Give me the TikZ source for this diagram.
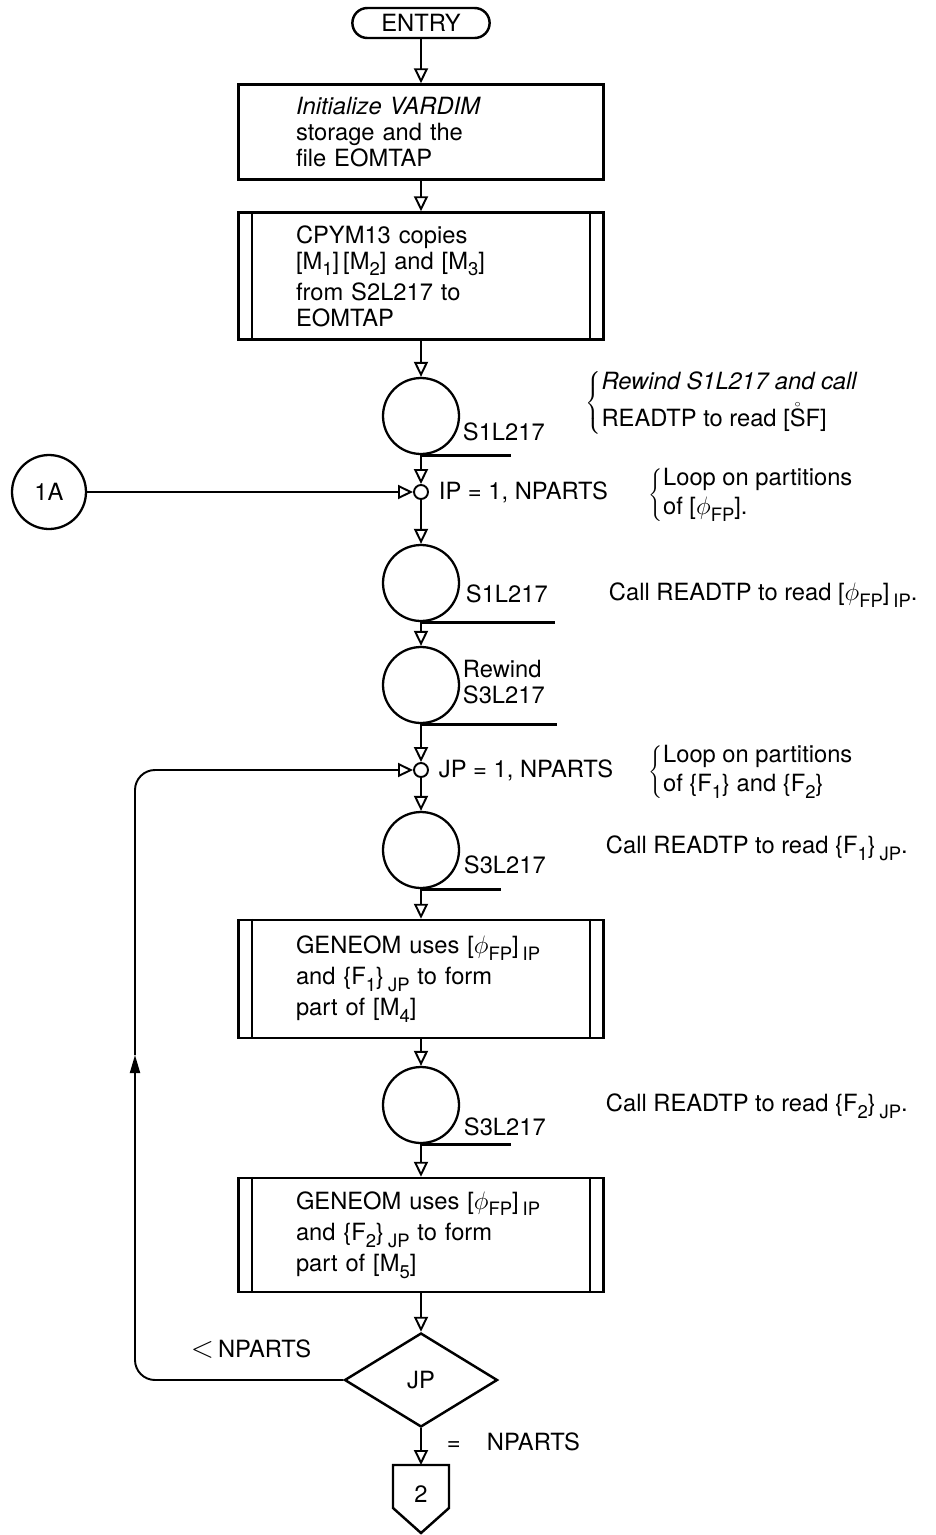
\documentclass[tikz,border=0pt]{standalone}
\usepackage{fontspec}
\setmainfont{TeX Gyre Heros}
\usetikzlibrary{arrows.meta,shapes.geometric,shapes.misc}
\newcommand{\lowsub}[1]{\raisebox{-0.55ex}{\fontsize{10.5}{12}\selectfont #1}}
\newcommand{\ringS}{$\mathring{\mbox{S}}$}

\begin{document}
\begin{tikzpicture}[x=0.02cm, y=-0.02cm, line width=1.1pt,
  font=\fontsize{13.5}{14.8}\selectfont,
  flow/.style={-{Triangle[open, length=0.3cm, width=0.28cm]}},
  box/.style={draw, line width=1.4pt, minimum width=7.3cm, text width=5cm, align=left},
  tape/.style={draw, circle, line width=1.3pt, minimum size=1.52cm, inner sep=0pt},
  tail/.style={line width=1.8pt},
  joint/.style={draw, circle, minimum size=0.28cm, inner sep=0pt},
  note/.style={anchor=west, inner sep=0pt}]
	\useasboundingbox (0, 0) rectangle (936, 1535);
	\node [draw, rounded rectangle, line width=1.4pt, minimum width=2.98cm, minimum height=0.6cm] (entry) at (421, 23) {ENTRY};
	\node [box, minimum height=1.9cm] (init) at (421, 132) {\itshape Initialize VARDIM\\\upshape storage and the\\file EOMTAP};
	\node [box, minimum height=2.54cm] (cpy) at (421, 276) {CPYM13 copies\\{}[M\lowsub{1}]\,[M\lowsub{2}] and [M\lowsub{3}]\\[3pt]from S2L217 to\\EOMTAP};
	\node [tape] (t1) at (421, 416) {};
	\node [joint] (jip) at (421, 492) {};
	\node [draw, circle, line width=1.3pt, minimum size=1.48cm, inner sep=0pt] (c1a) at (49, 492) {1A};
	\node [tape] (t2) at (421, 583) {};
	\node [tape] (t3) at (421, 685) {};
	\node [joint] (jjp) at (421, 770) {};
	\node [tape] (t4) at (421, 850) {};
	\node [box, minimum height=2.36cm] (gen1) at (421, 979) {GENEOM uses [$\phi$\lowsub{FP}]\,\lowsub{IP}\\[3pt]and \{F\lowsub{1}\}\,\lowsub{JP} to form\\[3pt]part of [M\lowsub{4}]};
	\node [tape] (t5) at (421, 1105) {};
	\node [box, minimum height=2.28cm] (gen2) at (421, 1235) {GENEOM uses [$\phi$\lowsub{FP}]\,\lowsub{IP}\\[3pt]and \{F\lowsub{2}\}\,\lowsub{JP} to form\\[3pt]part of [M\lowsub{5}]};
	\node [draw, diamond, line width=1.4pt, minimum width=3.06cm, minimum height=1.88cm, inner sep=0pt] (dec) at (421, 1380) {JP};
	\node (pg) at (421, 1494) {2};
	\coordinate (pgtop) at (421, 1465);
	\coordinate (up) at (135, 1055);

	\foreach \b in {cpy, gen1, gen2} {
		\draw ([xshift=0.3cm]\b.north west) -- ([xshift=0.3cm]\b.south west);
		\draw ([xshift=-0.3cm]\b.north east) -- ([xshift=-0.3cm]\b.south east);
	}
	\draw [line width=1.4pt] (pgtop) -- ++(28, 0) -- ++(0, 43) -- ++(-28, 25) -- ++(-28, -25) -- ++(0, -43) -- cycle;

	\draw [tail] (t1.south) -- ++(90, 0);
	\draw [tail] (t2.south) -- ++(134, 0);
	\draw [tail] (t3.south) -- ++(136, 0);
	\draw [tail] (t4.south) -- ++(80, 0);
	\draw [tail] (t5.south) -- ++(90, 0);

	\foreach \a/\b in {entry/init, init/cpy, cpy/t1, t1/jip, jip/t2, t2/t3, t3/jjp, jjp/t4, t4/gen1, gen1/t5, t5/gen2, gen2/dec, dec/pgtop}
		\draw [flow] (\a) -- (\b);
	\draw [flow] (c1a) -- (jip);
	\draw [-{Triangle[length=0.36cm, width=0.2cm]}, rounded corners=0.4cm] (dec.west) -| (up);
	\draw [flow, rounded corners=0.4cm] (up) |- (jjp.west);

	\node [note] at (462, 432) {S1L217};
	\node [note] at (465, 594) {S1L217};
	\node [note, align=left] at (462, 682) {Rewind\\S3L217};
	\node [note] at (463, 865) {S3L217};
	\node [note] at (463, 1127) {S3L217};
	\node [note] at (438, 492) {IP = 1, NPARTS};
	\node [note] at (438, 770) {JP = 1, NPARTS};
	\node [note] at (190, 1349) {{\fontsize{17}{17}\selectfont$<$}\,NPARTS};
	\node [note] at (446, 1442) {=\hspace{1.1em}NPARTS};

	\node [note] at (585, 403) {$\left\{\vcenter{\hbox{\begin{tabular}{@{}l@{}}\itshape Rewind S1L217 and call\\[3pt]READTP to read [\ringS F]\end{tabular}}}\right.$};
	\node [note] at (648, 495) {$\left\{\vcenter{\hbox{\begin{tabular}{@{}l@{}}Loop on partitions\\[2pt]of [$\phi$\lowsub{FP}].\end{tabular}}}\right.$};
	\node [note] at (608, 595) {Call READTP to read [$\phi$\lowsub{FP}]\,\lowsub{IP}.};
	\node [note] at (648, 772) {$\left\{\vcenter{\hbox{\begin{tabular}{@{}l@{}}Loop on partitions\\[2pt]of \{F\lowsub{1}\} and \{F\lowsub{2}\}\end{tabular}}}\right.$};
	\node [note] at (605, 848) {Call READTP to read \{F\lowsub{1}\}\,\lowsub{JP}.};
	\node [note] at (605, 1106) {Call READTP to read \{F\lowsub{2}\}\,\lowsub{JP}.};
\end{tikzpicture}
\end{document}
